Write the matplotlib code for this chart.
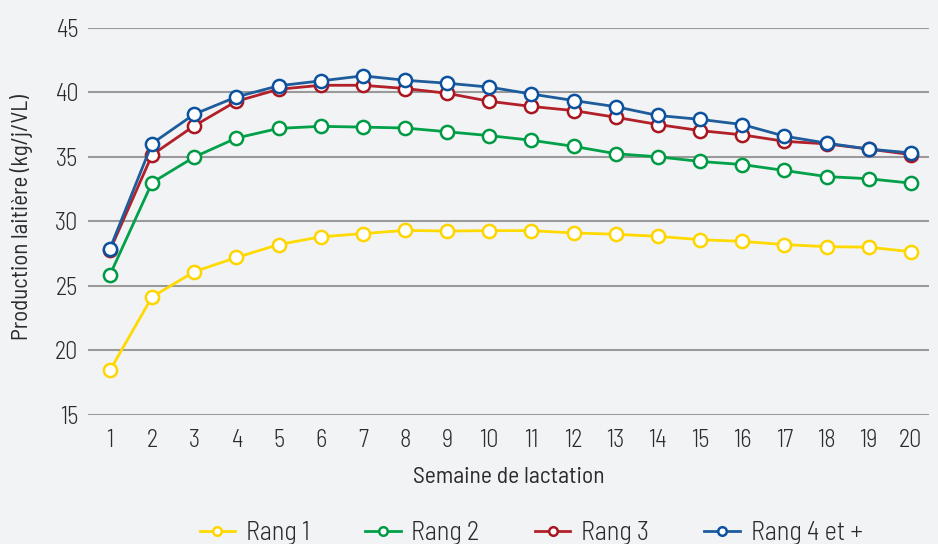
import matplotlib
matplotlib.use("Agg")
import matplotlib.pyplot as plt
from matplotlib import font_manager

weeks = list(range(1, 21))
rang1 = [18.45, 24.15, 26.1, 27.2, 28.2, 28.8, 29.05, 29.3, 29.25, 29.28,
         29.28, 29.1, 29.0, 28.84, 28.58, 28.45, 28.2, 28.04, 28.0, 27.65]
rang2 = [25.85, 33.0, 34.98, 36.45, 37.2, 37.36, 37.3, 37.23, 36.94, 36.64,
         36.28, 35.81, 35.24, 35.0, 34.64, 34.4, 33.94, 33.47, 33.3, 32.96]
rang3 = [27.75, 35.15, 37.4, 39.3, 40.23, 40.54, 40.54, 40.29, 39.92, 39.3,
         38.9, 38.58, 38.06, 37.5, 37.03, 36.7, 36.2, 36.0, 35.6, 35.17]
rang4 = [27.88, 36.03, 38.3, 39.64, 40.5, 40.88, 41.27, 40.93, 40.7, 40.4,
         39.86, 39.36, 38.88, 38.2, 37.9, 37.5, 36.6, 36.06, 35.6, 35.3]
series_names = ["Rang 1", "Rang 2", "Rang 3", "Rang 4 et +"]
yticks = [15, 20, 25, 30, 35, 40, 45]

colors = ["#FFDA00", "#00A148", "#B2202A", "#1E5C9C"]
edge_colors = ["#FFD500", "#009A44", "#A8161F", "#0A52A0"]

names = {f.name for f in font_manager.fontManager.ttflist}
fam = "Barlow Semi Condensed" if "Barlow Semi Condensed" in names else "DejaVu Sans"
plt.rcParams["font.family"] = [fam, "DejaVu Sans"]
plt.rcParams["font.weight"] = 300

bg = "#F2F3F5"
txtc = "#2B2B2B"
fig = plt.figure(figsize=(9.38, 5.44), dpi=100, facecolor=bg)
ax = fig.add_axes([88/938, 1-415/544, (929-88)/938, (415-27.7)/544], facecolor=bg)

for vals, name, c, ec in zip([rang1, rang2, rang3, rang4], series_names, colors, edge_colors):
    ax.plot(weeks, vals, color=c, lw=2.0, marker="o", markersize=9.5,
            markerfacecolor="white", markeredgecolor=ec, markeredgewidth=1.8,
            label=name, zorder=3)

ax.set_ylim(15, 45)
ax.set_xlim(0.48, 20.43)
ax.set_yticks(yticks)
ax.set_xticks(weeks)
ax.grid(axis="y", color="#9A9A9A", lw=1.5)
ax.set_axisbelow(True)
for s in ax.spines.values():
    s.set_visible(False)
ax.tick_params(axis="both", length=0, labelsize=17.5, labelcolor=txtc)
ax.tick_params(axis="x", pad=10)
ax.tick_params(axis="y", pad=7)
ax.set_xlabel("Semaine de lactation", fontsize=17, color=txtc)
ax.set_ylabel("Production laitière (kg/j/VL)", fontsize=16.5, color=txtc)
ax.xaxis.set_label_coords(0.5, -0.135)
ax.yaxis.set_label_coords(-0.0654, 0.51)

fig.legend(loc="center", bbox_to_anchor=(531/938, 1-533/544), ncol=4, frameon=False,
           fontsize=19, handlelength=1.35, columnspacing=2.1, handletextpad=0.4,
           markerscale=0.65, labelcolor=txtc)

fig.savefig("out.png", dpi=100, facecolor=bg)
